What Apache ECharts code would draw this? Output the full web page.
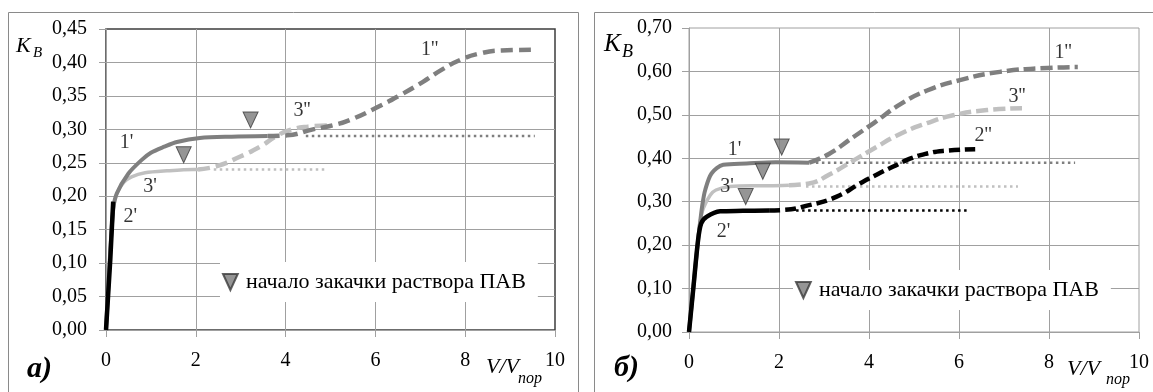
<!DOCTYPE html>
<html>
<head>
<meta charset="utf-8">
<script src="https://cdn.jsdelivr.net/npm/echarts@6/dist/echarts.min.js"></script>
<style>
  html, body { margin: 0; padding: 0; background: #fff; }
  #chart { width: 1153px; height: 392px; }
</style>
</head>
<body>
<div id="chart"></div>
<script>
// ---- axes -------------------------------------------------------------
const xTicks = [0, 2, 4, 6, 8, 10];
const yTicksA = [0, 0.05, 0.10, 0.15, 0.20, 0.25, 0.30, 0.35, 0.40, 0.45];
const yTicksB = [0, 0.10, 0.20, 0.30, 0.40, 0.50, 0.60, 0.70];

// ---- panel а): K_B vs V/V_пор ------------------------------------------
const a1Solid = [[0,0],[0.08,0.1],[0.16,0.18],[0.24,0.204],[0.5,0.234],[0.79,0.254],[1.0,0.265],[1.3,0.274],[1.58,0.281],[2.09,0.287],[2.8,0.289],[3.6,0.29]];
const a1Dash  = [[3.6,0.29],[4.03,0.291],[4.61,0.3],[4.99,0.305],[5.43,0.314],[6.04,0.333],[6.55,0.351],[7.06,0.371],[7.5,0.39],[7.9,0.404],[8.3,0.413],[8.8,0.418],[9.55,0.419]];
const a1Dot   = [[4.45,0.29],[9.55,0.29]];
const a3Solid = [[0,0],[0.08,0.1],[0.16,0.18],[0.24,0.204],[0.4,0.221],[0.57,0.229],[0.87,0.235],[1.36,0.238],[1.94,0.24],[2.05,0.24]];
const a3Dash  = [[2.05,0.24],[2.47,0.245],[2.98,0.259],[3.43,0.274],[3.8,0.29],[4.1,0.299],[4.5,0.304],[4.99,0.306]];
const a3Dot   = [[2.4,0.24],[4.88,0.24]];
const a2Solid = [[0,0],[0.095,0.105],[0.16,0.192]];
const aStart  = [[3.22,0.314],[1.73,0.262]];

// ---- panel б) ------------------------------------------------------------
const b1Solid = [[0,0],[0.1,0.105],[0.2,0.21],[0.25,0.255],[0.3,0.295],[0.36,0.327],[0.5,0.365],[0.76,0.385],[1.28,0.388],[1.93,0.391],[2.67,0.39]];
const b1Dash  = [[2.67,0.39],[3.11,0.41],[3.64,0.448],[4.09,0.48],[4.69,0.524],[5.29,0.556],[6.02,0.58],[6.91,0.599],[7.96,0.608],[8.64,0.61]];
const b1Dot   = [[2.82,0.39],[8.58,0.39]];
const b3Solid = [[0,0],[0.1,0.105],[0.2,0.21],[0.24,0.25],[0.32,0.285],[0.47,0.315],[0.6,0.327],[0.91,0.335],[1.4,0.337],[1.8,0.337],[2.22,0.338]];
const b3Dash  = [[2.22,0.338],[2.67,0.342],[3.11,0.362],[3.64,0.394],[4.1,0.422],[4.69,0.456],[5.29,0.481],[5.87,0.499],[6.62,0.511],[7.4,0.515]];
const b3Dot   = [[2.6,0.335],[7.31,0.335]];
const b2Solid = [[0,0],[0.1,0.105],[0.2,0.21],[0.27,0.25],[0.39,0.265],[0.69,0.278],[1.2,0.279],[1.78,0.28]];
const b2Dash  = [[1.78,0.28],[2.09,0.281],[2.67,0.292],[3.27,0.311],[3.8,0.342],[4.2,0.364],[4.54,0.381],[4.91,0.399],[5.29,0.411],[5.64,0.417],[6.36,0.421]];
const b2Dot   = [[2.38,0.28],[6.24,0.28]];
const bStart  = [[2.06,0.426],[1.64,0.37],[1.26,0.312]];

const MARK_NAME = 'начало закачки раствора ПАВ';

// ---- styling helpers ---------------------------------------------------------
const SERIF = '"Liberation Serif", "Times New Roman", serif';
const DARK = '#7f7f7f', LIGHT = '#c0c0c0', BLACK = '#000000';
const GRID_LINE = '#a0a0a0';
const TRI = 'path://M0,0L12,0L6,13Z';

function curve(data, idx, color, width, dash, smooth) {
  return {
    type: 'line', data: data, xAxisIndex: idx, yAxisIndex: idx,
    symbol: 'none', showSymbol: false, silent: true,
    smooth: smooth === undefined ? 0.3 : smooth,
    lineStyle: { color: color, width: width, type: dash || 'solid', cap: 'butt', join: 'round' },
    z: 3
  };
}
function dotted(data, idx, color) {
  return {
    type: 'line', data: data, xAxisIndex: idx, yAxisIndex: idx,
    symbol: 'none', showSymbol: false, silent: true,
    lineStyle: { color: color, width: 2.5, type: [2.5, 3.5], cap: 'butt' },
    z: 2
  };
}
function markers(data, idx) {
  return {
    type: 'scatter', name: MARK_NAME, data: data, xAxisIndex: idx, yAxisIndex: idx,
    symbol: TRI, symbolSize: [15, 16], silent: true,
    itemStyle: { color: '#7a7a7a', borderColor: '#3a3a3a', borderWidth: 1 },
    z: 5
  };
}
// curve captions are hung on a point of their own curve, shifted by a few pixels
function tag(point, text, dx, dy) {
  return { value: point, label: { formatter: text, offset: [dx, dy] } };
}
function tags(items, idx) {
  return {
    type: 'scatter', data: items, xAxisIndex: idx, yAxisIndex: idx,
    symbolSize: 1, silent: true, itemStyle: { color: 'rgba(0,0,0,0)' },
    label: { show: true, position: 'inside', fontFamily: SERIF, fontSize: 20, color: '#000' },
    z: 6
  };
}
function xAxis(idx) {
  return {
    type: 'value', gridIndex: idx, min: xTicks[0], max: xTicks[xTicks.length - 1],
    interval: xTicks[1] - xTicks[0],
    axisLine: { show: true, lineStyle: { color: GRID_LINE, width: 1 } },
    axisTick: { show: true, inside: false, length: 7, lineStyle: { color: GRID_LINE } },
    axisLabel: { margin: 21, fontFamily: SERIF, fontSize: 20, color: '#000' },
    splitLine: { show: true, showMinLine: false, showMaxLine: false, lineStyle: { color: GRID_LINE, width: 1 } }
  };
}
function yAxis(idx, ticks, margin) {
  return {
    type: 'value', gridIndex: idx, min: ticks[0], max: ticks[ticks.length - 1],
    interval: +(ticks[1] - ticks[0]).toFixed(2),
    axisLine: { show: true, lineStyle: { color: GRID_LINE, width: 1 } },
    axisTick: { show: true, inside: false, length: 7, lineStyle: { color: GRID_LINE } },
    axisLabel: {
      margin: margin, fontFamily: SERIF, fontSize: 20, color: '#000',
      formatter: v => v.toFixed(2).replace('.', ',')
    },
    splitLine: { show: true, showMinLine: false, showMaxLine: false, lineStyle: { color: GRID_LINE, width: 1 } }
  };
}
function legend(left, top) {
  return {
    data: [{ name: MARK_NAME, icon: TRI }],
    left: left, top: top, orient: 'horizontal',
    backgroundColor: '#ffffff', padding: [8, 12, 8, 2],
    itemWidth: 15, itemHeight: 16, selectedMode: false,
    textStyle: { fontFamily: SERIF, fontSize: 22, color: '#000', padding: [0, 0, 0, 3], lineHeight: 24 }
  };
}
function txt(x, y, text, size, style, weight) {
  return {
    type: 'text', x: x, y: y, silent: true,
    style: {
      text: text, fill: '#000', font: (style || 'normal') + ' ' + (weight || 'normal') + ' ' + size + 'px ' + SERIF,
      textAlign: 'left', textVerticalAlign: 'middle'
    }
  };
}

// captions
const aTags = [
  tag(a1Solid[4], "1'", -2, -31),
  tag(a3Solid[6], "3'", 5, 14),
  tag(a2Solid[2], "2'", 17, 15),
  tag(a3Dash[6], "3''", -6, -16),
  tag(a1Dash[9], "1''", -31, -10)
];
const bTags = [
  tag(b1Solid[8], "1'", -12, -14),
  tag(b3Solid[7], "3'", -3, 0),
  tag(b2Solid[4], "2'", 17, 15),
  tag(b1Dash[8], "1''", 16, -15),
  tag(b3Dash[9], "3''", -5, -12),
  tag(b2Dash[10], "2''", 8, -13)
];

const chart = echarts.init(document.getElementById('chart'), null, { renderer: 'canvas' });
chart.setOption({
  animation: false,
  backgroundColor: '#ffffff',
  grid: [
    { left: 106, top: 29, width: 449, height: 301, show: true, borderColor: '#3c3c3c', borderWidth: 1.5, backgroundColor: 'transparent' },
    { left: 689, top: 28, width: 450, height: 304, show: true, borderColor: GRID_LINE, borderWidth: 1, backgroundColor: 'transparent' }
  ],
  xAxis: [xAxis(0), xAxis(1)],
  yAxis: [yAxis(0, yTicksA, 19), yAxis(1, yTicksB, 17)],
  legend: [legend(220, 262), legend(793, 270)],
  graphic: [
    // panel frames
    { type: 'rect', shape: { x: 8.5, y: 12.5, width: 570, height: 400 }, style: { fill: 'none', stroke: '#8a8a8a', lineWidth: 1 }, silent: true, z: -1 },
    { type: 'rect', shape: { x: 594.5, y: 12.5, width: 600, height: 400 }, style: { fill: 'none', stroke: '#8a8a8a', lineWidth: 1 }, silent: true, z: -1 },
    // axis names
    txt(16, 46, 'K', 22, 'italic'),
    txt(33, 53, 'B', 15, 'italic'),
    txt(604, 44, 'K', 25, 'italic'),
    txt(622, 52, 'B', 18, 'italic'),
    txt(486, 367, 'V/V', 22, 'italic'),
    txt(518, 379, 'пор', 16, 'italic'),
    txt(1067, 369, 'V/V', 22, 'italic'),
    txt(1106, 380, 'пор', 16, 'italic'),
    // panel letters
    txt(27, 369, 'а)', 30, 'italic', 'bold'),
    txt(614, 368, 'б)', 30, 'italic', 'bold')
  ],
  series: [
    dotted(a1Dot, 0, DARK),
    dotted(a3Dot, 0, LIGHT),
    curve(a3Solid, 0, LIGHT, 3.5),
    curve(a3Dash, 0, LIGHT, 4.5, [12, 6], 0.5),
    curve(a1Solid, 0, DARK, 4),
    curve(a1Dash, 0, DARK, 4.5, [12, 6], 0.5),
    curve(a2Solid, 0, BLACK, 4.5, 'solid', 0),
    markers(aStart, 0),
    tags(aTags, 0),

    dotted(b1Dot, 1, DARK),
    dotted(b3Dot, 1, LIGHT),
    dotted(b2Dot, 1, BLACK),
    curve(b3Solid, 1, LIGHT, 3.5),
    curve(b3Dash, 1, LIGHT, 4.5, [12, 5], 0.5),
    curve(b1Solid, 1, DARK, 4),
    curve(b1Dash, 1, DARK, 4.5, [12, 5], 0.5),
    curve(b2Solid, 1, BLACK, 4.5),
    curve(b2Dash, 1, BLACK, 4.5, [11, 5], 0.5),
    markers(bStart, 1),
    tags(bTags, 1)
  ]
});
</script>
</body>
</html>
